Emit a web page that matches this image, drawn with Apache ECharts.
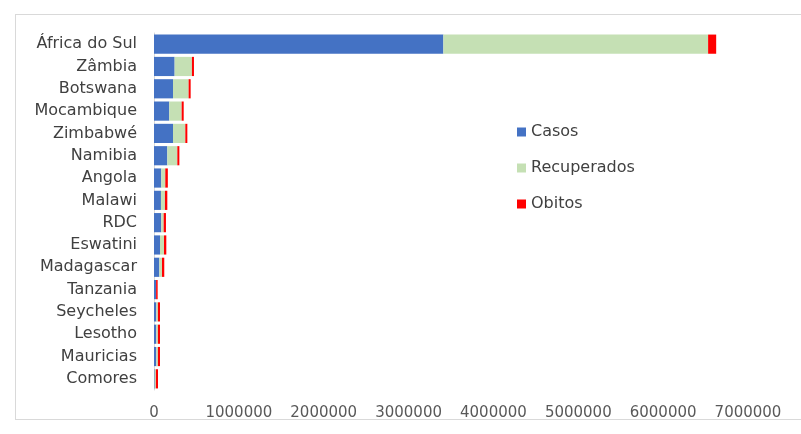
<!DOCTYPE html>
<html><head><meta charset="utf-8">
<script src="https://cdn.jsdelivr.net/npm/echarts@6/dist/echarts.min.js"></script>
<style>html,body{margin:0;padding:0;background:#fff}#frame{position:absolute;left:15px;top:14px;width:800px;height:406px;border:1px solid #d9d9d9;box-sizing:border-box}#c{position:absolute;left:0;top:0;width:801px;height:434px}</style>
</head><body><div id="frame"></div><div id="c"></div>
<script>
const categories = ["África do Sul","Zâmbia","Botswana","Mocambique","Zimbabwé","Namibia","Angola","Malawi","RDC","Eswatini","Madagascar","Tanzania","Seycheles","Lesotho","Mauricias","Comores"];
const casos =       [3410000, 243000, 224000, 180000, 224000, 157000, 86000, 82000, 86000, 71000, 63000, 25000, 28000, 28000, 28000, 8000];
const recuperados = [3120000, 204000, 184000, 146000, 145000, 118000, 47000, 47000, 28000, 47000, 31000, 0, 18000, 18000, 18000, 14000];
const obitos =      [95000, 24000, 24000, 24000, 24000, 24000, 30000, 28000, 27000, 27000, 27000, 18000, 25000, 25000, 25000, 25000];
const xTicks = [0, 1000000, 2000000, 3000000, 4000000, 5000000, 6000000, 7000000];

const chart = echarts.init(document.getElementById('c'));
const font = "'DejaVu Sans', sans-serif";
chart.setOption({
  animation: false,
  textStyle: {fontFamily: font},
  grid: {left: 154, right: 53, top: 33, bottom: 44, containLabel: false},
  legend: {
    orient: 'vertical', left: 512, top: 119, itemGap: 20,
    itemWidth: 9, itemHeight: 9, icon: 'rect',
    textStyle: {fontSize: 16, color: '#404040', fontFamily: font},
    data: ['Casos','Recuperados','Obitos']
  },
  xAxis: {
    type: 'value', min: xTicks[0], max: xTicks[xTicks.length-1], interval: 1000000,
    axisLine: {show: false}, axisTick: {show: false}, splitLine: {show: false},
    axisLabel: {color: '#595959', fontSize: 15, margin: 16, fontFamily: font, formatter: v => String(v)}
  },
  yAxis: {
    type: 'category', data: categories, inverse: true,
    axisLine: {show: true, lineStyle: {color: '#d9d9d9'}}, axisTick: {show: false},
    axisLabel: {color: '#404040', fontSize: 16, margin: 17, fontFamily: font}
  },
  series: [
    {name: 'Casos', type: 'bar', stack: 't', data: casos, itemStyle: {color: '#4472C4'}, barCategoryGap: '14%'},
    {name: 'Recuperados', type: 'bar', stack: 't', data: recuperados, itemStyle: {color: '#C5E0B4'}},
    {name: 'Obitos', type: 'bar', stack: 't', data: obitos, itemStyle: {color: '#FF0000'}}
  ]
});
</script></body></html>
